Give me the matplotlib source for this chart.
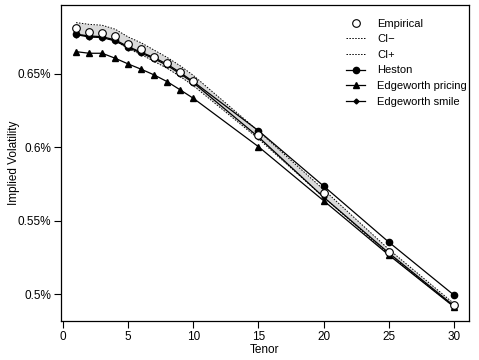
import matplotlib
matplotlib.use("Agg")
import matplotlib.pyplot as plt
from matplotlib.ticker import FuncFormatter

plt.rcParams["font.family"] = ["Liberation Sans", "DejaVu Sans"]

tenor = [1, 2, 3, 4, 5, 6, 7, 8, 9, 10, 15, 20, 25, 30]
empirical = [0.6812, 0.6789, 0.6782, 0.6759, 0.6705, 0.6668, 0.6618,
             0.6573, 0.6516, 0.6454, 0.6084, 0.5686, 0.5288, 0.4925]
ci_lo = [0.6770, 0.6755, 0.6750, 0.6728, 0.6672, 0.6632, 0.6585,
         0.6538, 0.6482, 0.6420, 0.6058, 0.5660, 0.5270, 0.4915]
ci_hi = [0.6850, 0.6838, 0.6832, 0.6805, 0.6752, 0.6712, 0.6662,
         0.6612, 0.6555, 0.6490, 0.6110, 0.5712, 0.5305, 0.4935]
heston = [0.6771, 0.6759, 0.6754, 0.6732, 0.6686, 0.6648, 0.6611,
          0.6566, 0.6509, 0.6447, 0.6113, 0.5736, 0.5354, 0.4993]
edge_pricing = [0.6652, 0.6641, 0.6641, 0.6607, 0.6568, 0.6532, 0.6493,
                0.6447, 0.6391, 0.6334, 0.6004, 0.5636, 0.5266, 0.4913]
edge_smile = [0.6768, 0.6752, 0.6748, 0.6725, 0.6680, 0.6642, 0.6603,
              0.6558, 0.6500, 0.6440, 0.6070, 0.5660, 0.5280, 0.4920]

fig = plt.figure(figsize=(4.79, 3.6), dpi=100)
ax = fig.add_axes([61 / 479, 1 - 321 / 360, 408 / 479, 316 / 360])

ax.fill_between(tenor, ci_lo, ci_hi, color="#dadada", lw=0)
ax.plot(tenor, empirical, ls="none", marker="o", ms=5.5, mfc="white",
        mec="black", mew=0.8, label="Empirical", zorder=5)
ax.plot(tenor, ci_lo, color="black", ls=(0, (1.5, 1.5)), lw=0.7, label="CI\u2212")
ax.plot(tenor, ci_hi, color="black", ls=(0, (1.5, 1.5)), lw=0.7, label="CI+")
ax.plot(tenor, heston, color="black", lw=0.9, marker="o", ms=4.5,
        label="Heston", zorder=4)
ax.plot(tenor, edge_pricing, color="black", lw=0.9, marker="^", ms=5,
        label="Edgeworth pricing", zorder=4)
ax.plot(tenor, edge_smile, color="black", lw=0.9, marker="D", ms=2.5,
        label="Edgeworth smile", zorder=4)

ax.set_xlim(-0.16, 31.16)
ax.set_ylim(0.4816, 0.697)
ax.set_xticks([0, 5, 10, 15, 20, 25, 30])
ax.set_yticks([0.5, 0.55, 0.6, 0.65])
ax.yaxis.set_major_formatter(FuncFormatter(lambda v, _: f"{v:g}%"))
ax.tick_params(direction="out", length=5, width=0.8, labelsize=8.5, pad=2)
for s in ax.spines.values():
    s.set_linewidth(0.9)

ax.set_xlabel("Tenor", fontsize=8.5, labelpad=1)
ax.set_ylabel("Implied Volatility", fontsize=8.5)
ax.yaxis.set_label_coords(-0.1, 0.5)

ax.legend(loc="upper right", bbox_to_anchor=(1.02, 0.988), frameon=False,
          fontsize=8, handlelength=1.7, labelspacing=0.5, handletextpad=1.1)

fig.savefig("out.png", dpi=100)
